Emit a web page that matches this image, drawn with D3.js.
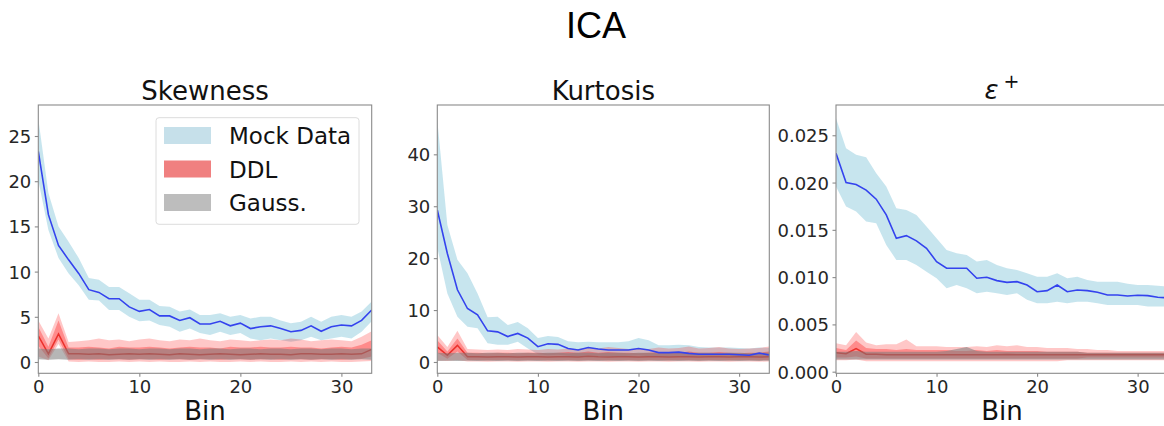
<!DOCTYPE html>
<html><head><meta charset="utf-8">
<script src="https://cdn.jsdelivr.net/npm/d3@7/dist/d3.min.js"></script>
<style>
body{margin:0;background:#fff;}
svg{display:block;}
text{font-family:"DejaVu Sans",sans-serif;}
</style></head>
<body>
<svg id="chart" width="1164" height="426"></svg>
<script>
// ---------------- data ----------------
const bins = d3.range(0, 34);
const xTicks = [0, 10, 20, 30];
const panelTitles = ["Skewness", "Kurtosis", "ε"];
const legendLabels = ["Mock Data", "DDL", "Gauss."];

// Skewness
const skewMock   = [23.3,16.3,12.9,11.3,9.8,8.0,7.7,7.0,7.0,6.1,5.6,5.8,5.1,5.1,4.6,4.9,4.2,4.2,4.5,4.0,4.3,3.7,3.9,4.0,3.7,3.35,3.5,4.0,3.4,3.9,4.1,4.0,4.6,5.75];
const skewMockHi = [26.9,18.7,15.0,13.3,11.5,9.3,9.1,8.3,8.3,7.6,6.9,6.9,6.2,6.1,5.6,5.8,5.2,5.2,5.4,5.0,5.2,4.8,5.0,5.0,4.6,4.3,4.45,5.0,4.45,5.0,5.2,5.0,5.6,6.7];
const skewMockLo = [20.1,14.6,11.5,9.8,8.5,6.9,6.8,5.75,5.75,5.0,4.5,4.6,4.1,3.9,3.35,3.7,3.2,3.0,3.35,3.0,3.2,2.6,2.4,2.6,2.4,2.25,2.4,2.8,2.4,2.6,2.8,2.6,3.35,4.5];
const skewDDL    = [2.9,0.9,3.1,0.9,0.9,0.85,0.9,0.8,0.85,0.9,0.85,0.9,0.85,0.8,0.9,0.85,0.8,0.85,0.9,0.85,0.8,0.85,0.9,0.85,0.85,0.8,0.9,0.9,0.85,0.85,0.9,0.85,0.9,1.4];
const skewDDLOutHi = [4.6,2.6,5.4,2.2,2.3,2.4,2.6,2.4,2.5,2.3,2.5,2.6,2.4,2.3,2.5,2.4,2.6,2.4,2.3,2.5,2.4,2.3,2.4,2.5,2.4,2.6,2.5,2.3,2.4,2.5,2.4,2.3,2.8,3.4];
const skewDDLOutLo = [0.6,0.2,2.0,0.05,0.0,0.05,0.0,0.0,0.05,0.0,0.05,0.0,0.05,0.0,0.0,0.05,0.0,0.05,0.0,0.0,0.05,0.0,0.05,0.0,0.0,0.05,0.0,0.05,0.0,0.05,0.0,0.0,0.05,0.1];
const skewDDLInHi  = [3.9,1.7,4.6,1.6,1.6,1.7,1.6,1.5,1.7,1.6,1.6,1.7,1.6,1.5,1.6,1.7,1.6,1.6,1.5,1.7,1.6,1.6,1.7,1.6,1.6,1.7,1.6,1.6,1.5,1.6,1.7,1.6,1.9,2.4];
const skewDDLInLo  = [1.8,0.4,2.5,0.3,0.25,0.3,0.25,0.3,0.3,0.25,0.3,0.3,0.25,0.3,0.3,0.25,0.3,0.3,0.25,0.3,0.3,0.25,0.3,0.3,0.25,0.3,0.3,0.25,0.3,0.3,0.25,0.3,0.35,0.6];
const skewGaussHi  = [1.5,1.4,1.5,1.5,1.4,1.5,1.5,1.4,1.5,1.5,1.4,1.5,1.5,1.4,1.5,1.5,1.4,1.5,1.5,1.4,1.5,1.5,1.4,1.5,1.5,1.4,1.5,1.5,1.4,1.5,1.5,1.4,1.5,1.5];
const skewGaussLo  = [0.3,0.25,0.3,0.25,0.3,0.25,0.3,0.25,0.3,0.25,0.3,0.25,0.3,0.25,0.3,0.25,0.3,0.25,0.3,0.25,0.3,0.25,0.3,0.25,0.3,0.25,0.3,0.25,0.3,0.25,0.3,0.25,0.3,0.25];

// Kurtosis
const kurtMock   = [29.3,20.9,13.9,10.3,9.1,6.0,5.8,4.9,5.5,4.6,2.95,3.5,3.4,2.6,2.3,2.8,2.5,2.3,2.3,2.3,2.6,2.3,1.8,1.8,1.9,1.65,1.5,1.5,1.5,1.5,1.4,1.3,1.7,1.35];
const kurtMockHi = [46.6,26.4,19.7,17.1,13.2,8.6,8.7,7.1,7.7,6.5,4.6,5.0,4.8,4.0,3.8,3.9,3.8,3.8,3.8,4.0,4.6,4.2,3.2,3.2,3.3,3.2,2.9,2.8,2.8,2.8,2.7,2.6,2.8,2.7];
const kurtMockLo = [22.0,13.2,8.7,6.8,6.5,3.6,3.3,3.3,3.9,2.6,1.5,1.3,1.4,1.2,1.1,1.3,1.2,1.1,1.1,1.2,1.3,1.1,1.0,1.0,1.1,1.0,1.0,0.9,0.9,1.0,0.9,0.9,1.0,0.9];
const kurtDDL    = [2.9,1.3,3.2,1.0,1.0,0.95,1.0,1.0,0.95,1.0,1.0,0.95,1.0,1.0,0.95,1.1,1.0,0.95,1.0,1.0,0.95,1.0,1.0,0.95,1.0,1.0,0.95,1.0,1.0,0.95,1.0,1.0,0.95,1.0];
const kurtDDLOutHi = [5.2,2.9,6.0,2.5,2.4,2.3,2.4,2.3,2.5,2.4,2.3,2.5,2.4,2.6,2.5,2.8,2.6,2.9,2.7,2.5,2.6,2.5,2.8,2.6,2.7,3.0,2.6,2.7,2.9,2.6,2.5,2.6,2.7,3.0];
const kurtDDLOutLo = [0.3,0.2,0.4,0.1,0.1,0.05,0.1,0.1,0.05,0.1,0.1,0.05,0.1,0.1,0.05,0.1,0.1,0.05,0.1,0.1,0.05,0.1,0.1,0.05,0.1,0.1,0.05,0.1,0.1,0.05,0.1,0.1,0.05,0.1];
const kurtDDLInHi  = [4.2,2.0,4.5,1.8,1.8,1.7,1.8,1.8,1.7,1.8,1.8,1.7,1.8,1.9,1.8,2.0,1.8,1.9,1.8,1.8,1.7,1.8,1.9,1.8,1.8,2.0,1.8,1.8,1.9,1.8,1.7,1.8,1.8,2.0];
const kurtDDLInLo  = [1.8,0.6,2.0,0.4,0.4,0.35,0.4,0.4,0.35,0.4,0.4,0.35,0.4,0.4,0.35,0.4,0.4,0.35,0.4,0.4,0.35,0.4,0.4,0.35,0.4,0.4,0.35,0.4,0.4,0.35,0.4,0.4,0.35,0.4];
const kurtGaussHi  = [1.8,1.7,1.8,1.8,1.7,1.8,1.8,1.7,1.8,1.8,1.7,1.8,1.8,1.7,1.8,1.8,1.7,1.8,1.8,1.7,1.8,1.8,1.7,1.8,1.8,1.7,1.8,1.8,1.7,1.8,1.8,1.7,1.8,1.8];
const kurtGaussLo  = [0.2,0.25,0.2,0.25,0.2,0.25,0.2,0.25,0.2,0.25,0.2,0.25,0.2,0.25,0.2,0.25,0.2,0.25,0.2,0.25,0.2,0.25,0.2,0.25,0.2,0.25,0.2,0.25,0.2,0.25,0.2,0.25,0.2,0.25];

// epsilon+
const epsMock   = [0.0231,0.0200,0.0198,0.0192,0.01824,0.01658,0.01411,0.01439,0.01383,0.01305,0.01164,0.01094,0.01094,0.01094,0.00988,0.00999,0.00963,0.00945,0.00952,0.00917,0.00846,0.00857,0.00917,0.00846,0.00864,0.00857,0.0084,0.00811,0.00811,0.00801,0.00808,0.00804,0.00787,0.0078];
const epsMockHi = [0.0268,0.02363,0.02293,0.02268,0.02099,0.01957,0.01729,0.0171,0.01658,0.01534,0.01411,0.01288,0.01252,0.01235,0.01164,0.0118,0.01129,0.01094,0.01076,0.0104,0.01005,0.01005,0.0104,0.00988,0.01005,0.0097,0.0095,0.0095,0.0095,0.0093,0.00917,0.00917,0.0091,0.009];
const epsMockLo = [0.01957,0.01746,0.01693,0.01587,0.0157,0.0134,0.01182,0.01182,0.01129,0.01058,0.00988,0.00882,0.00917,0.00882,0.0083,0.00846,0.0083,0.00811,0.0083,0.0076,0.00723,0.00723,0.0074,0.00723,0.0074,0.0074,0.00723,0.00706,0.00706,0.00706,0.00706,0.00689,0.00689,0.00689];
const epsDDL    = [0.0020,0.0019,0.00245,0.00185,0.00185,0.0018,0.00178,0.0018,0.00178,0.0018,0.0018,0.00178,0.0018,0.0018,0.00178,0.0018,0.0018,0.00182,0.0018,0.0018,0.00178,0.0018,0.0018,0.00178,0.0018,0.0018,0.00178,0.0018,0.0018,0.00178,0.0018,0.0018,0.00178,0.0018];
const epsDDLOutHi = [0.0030,0.0028,0.0042,0.0031,0.0028,0.0029,0.0029,0.0034,0.0027,0.0027,0.0027,0.0026,0.0026,0.0026,0.0027,0.0026,0.0028,0.0027,0.0028,0.0026,0.0026,0.0025,0.0025,0.0025,0.0024,0.0024,0.0023,0.0023,0.0022,0.0022,0.0022,0.0022,0.0022,0.0022];
const epsDDLOutLo = [0.0012,0.0012,0.0013,0.0011,0.0011,0.0011,0.0011,0.0011,0.0011,0.0011,0.0011,0.0011,0.0011,0.0011,0.0011,0.0011,0.0011,0.0011,0.0011,0.0011,0.0011,0.0011,0.0011,0.0012,0.0012,0.0012,0.0012,0.0012,0.0012,0.0012,0.0012,0.0012,0.0012,0.0012];
const epsDDLInHi  = [0.0025,0.0023,0.0033,0.0025,0.0024,0.0024,0.0023,0.0024,0.0023,0.0023,0.0023,0.0023,0.0022,0.0022,0.0023,0.0022,0.0023,0.0022,0.0022,0.0022,0.0022,0.0021,0.0021,0.0021,0.0021,0.0020,0.0020,0.0020,0.0020,0.0020,0.0020,0.0020,0.0020,0.0020];
const epsDDLInLo  = [0.0015,0.0015,0.0016,0.0014,0.0014,0.0014,0.0014,0.0014,0.0014,0.0014,0.0014,0.0014,0.0014,0.0014,0.0014,0.0014,0.0014,0.0014,0.0014,0.0014,0.0014,0.0014,0.0014,0.0014,0.0014,0.0015,0.0015,0.0015,0.0015,0.0015,0.0015,0.0015,0.0015,0.0015];
const epsGaussHi  = [0.0021,0.0021,0.0022,0.0021,0.0021,0.0021,0.0021,0.0021,0.0021,0.0021,0.0021,0.0022,0.0024,0.0026,0.0022,0.0021,0.0021,0.0021,0.0021,0.0021,0.0021,0.0021,0.0021,0.0021,0.0021,0.0020,0.0020,0.0020,0.0020,0.0020,0.0020,0.0020,0.0020,0.0020];
const epsGaussLo  = [0.0013,0.0013,0.0013,0.0013,0.0013,0.0013,0.0013,0.0013,0.0013,0.0013,0.0013,0.0013,0.0013,0.0013,0.0013,0.0013,0.0013,0.0013,0.0013,0.0013,0.0013,0.0013,0.0013,0.0013,0.0013,0.0013,0.0013,0.0013,0.0013,0.0013,0.0013,0.0013,0.0013,0.0013];

const skewTicks = [0,5,10,15,20,25];
const kurtTicks = [0,10,20,30,40];
const epsTicks  = [0,0.005,0.010,0.015,0.020,0.025];

// ---------------- layout ----------------
const svg = d3.select("#chart");
const yTop = 105, yBottom = 373.3;
const panels = [
  {title: panelTitles[0], x0: 38.3, x1: 371.7, ydom: [-1.25, 28.43], ticks: skewTicks, fmt: d3.format("d"),
   mock: skewMock, mockHi: skewMockHi, mockLo: skewMockLo, ddl: skewDDL, oHi: skewDDLOutHi, oLo: skewDDLOutLo,
   iHi: skewDDLInHi, iLo: skewDDLInLo, gHi: skewGaussHi, gLo: skewGaussLo, legend: true},
  {title: panelTitles[1], x0: 437.3, x1: 769.3, ydom: [-2.18, 49.5], ticks: kurtTicks, fmt: d3.format("d"),
   mock: kurtMock, mockHi: kurtMockHi, mockLo: kurtMockLo, ddl: kurtDDL, oHi: kurtDDLOutHi, oLo: kurtDDLOutLo,
   iHi: kurtDDLInHi, iLo: kurtDDLInLo, gHi: kurtGaussHi, gLo: kurtGaussLo},
  {title: panelTitles[2], x0: 836, x1: 1167.8, ydom: [-0.00017, 0.0282], ticks: epsTicks, fmt: d3.format(".3f"),
   mock: epsMock, mockHi: epsMockHi, mockLo: epsMockLo, ddl: epsDDL, oHi: epsDDLOutHi, oLo: epsDDLOutLo,
   iHi: epsDDLInHi, iLo: epsDDLInLo, gHi: epsGaussHi, gLo: epsGaussLo, math: true}
];

const spine = "#8a8a8a";
const tickCol = "#262626";

// main title
svg.append("text").attr("x", 596).attr("y", 38).attr("text-anchor", "middle")
  .style("font-family", "'Liberation Sans', Arial, sans-serif").style("font-size", "36px").attr("fill", "#000").text("ICA");

panels.forEach((p, pi) => {
  const x = d3.scaleLinear().domain([0, 33]).range([p.x0, p.x1]);
  const y = d3.scaleLinear().domain(p.ydom).range([yBottom, yTop]);
  const g = svg.append("g");
  const cid = "clip" + pi;
  svg.append("clipPath").attr("id", cid).append("rect")
    .attr("x", p.x0).attr("y", yTop).attr("width", p.x1 - p.x0).attr("height", yBottom - yTop);
  const plot = g.append("g").attr("clip-path", `url(#${cid})`);

  const band = (lo, hi) => d3.area().x((d, i) => x(bins[i])).y0((d, i) => y(lo[i])).y1((d, i) => y(hi[i]))(bins);
  const line = (v) => d3.line().x((d, i) => x(bins[i])).y((d, i) => y(v[i]))(bins);

  plot.append("path").attr("d", band(p.mockLo, p.mockHi)).attr("fill", "#add8e6").attr("fill-opacity", 0.68);
  plot.append("path").attr("d", band(p.oLo, p.oHi)).attr("fill", "#ff0000").attr("fill-opacity", 0.22);
  plot.append("path").attr("d", band(p.iLo, p.iHi)).attr("fill", "#ff0000").attr("fill-opacity", 0.3);
  plot.append("path").attr("d", line(p.ddl)).attr("fill", "none").attr("stroke", "#e8201a").attr("stroke-width", 1.5).attr("stroke-opacity", 0.85);
  plot.append("path").attr("d", band(p.gLo, p.gHi)).attr("fill", "#7a7a7a").attr("fill-opacity", 0.55);
  plot.append("path").attr("d", line(p.mock)).attr("fill", "none").attr("stroke", "#3443ee").attr("stroke-width", 1.6);

  // frame
  g.append("rect").attr("x", p.x0).attr("y", yTop).attr("width", p.x1 - p.x0).attr("height", yBottom - yTop)
    .attr("fill", "none").attr("stroke", spine).attr("stroke-width", 1.1);

  // axes
  const xa = g.append("g").attr("transform", `translate(0,${yBottom})`)
    .call(d3.axisBottom(x).tickValues(xTicks).tickSize(3.5).tickPadding(3.5).tickFormat(d3.format("d")));
  const ya = g.append("g").attr("transform", `translate(${p.x0},0)`)
    .call(d3.axisLeft(y).tickValues(p.ticks).tickSize(3.5).tickPadding(3.5).tickFormat(p.fmt));
  [xa, ya].forEach(a => {
    a.select(".domain").remove();
    a.selectAll(".tick line").attr("stroke", spine).attr("stroke-width", 1.1);
    a.selectAll(".tick text").attr("fill", tickCol).style("font-family", "'DejaVu Sans', sans-serif").style("font-size", "18px");
  });
  xa.selectAll(".tick text").attr("dy", null).attr("y", 20.2);
  ya.selectAll(".tick text").attr("dy", "0.36em");

  // x label
  const cx = (p.x0 + p.x1) / 2;
  g.append("text").attr("x", cx).attr("y", 420).attr("text-anchor", "middle")
    .style("font-size", "26px").attr("fill", "#111").text("Bin");

  // panel title
  if (p.math) {
    const t = g.append("text").attr("x", cx).attr("y", 99).attr("text-anchor", "middle").style("font-size", "26px").attr("fill", "#111");
    t.append("tspan").style("font-style", "italic").text(p.title);
    t.append("tspan").attr("dx", 5).attr("dy", -11).style("font-size", "19px").text("+");
  } else {
    g.append("text").attr("x", cx).attr("y", 100).attr("text-anchor", "middle")
      .style("font-size", "26px").attr("fill", "#111").text(p.title);
  }

  if (p.legend) {
    const lg = g.append("g");
    lg.append("rect").attr("x", 156).attr("y", 117.7).attr("width", 203).attr("height", 106.6)
      .attr("rx", 3).attr("fill", "#fff").attr("fill-opacity", 0.85).attr("stroke", "#dcdcdc").attr("stroke-width", 1);
    const cols = ["#c6e0ea", "#f08080", "#bdbdbd"];
    const rowsY = [135.5, 169, 202.5];
    legendLabels.forEach((lab, k) => {
      lg.append("rect").attr("x", 164).attr("y", rowsY[k] - 8.5).attr("width", 47).attr("height", 17).attr("fill", cols[k]);
      lg.append("text").attr("x", 229).attr("y", rowsY[k] + 8.6).style("font-size", "23px").attr("fill", "#111").text(lab);
    });
  }
});
</script>
</body></html>
